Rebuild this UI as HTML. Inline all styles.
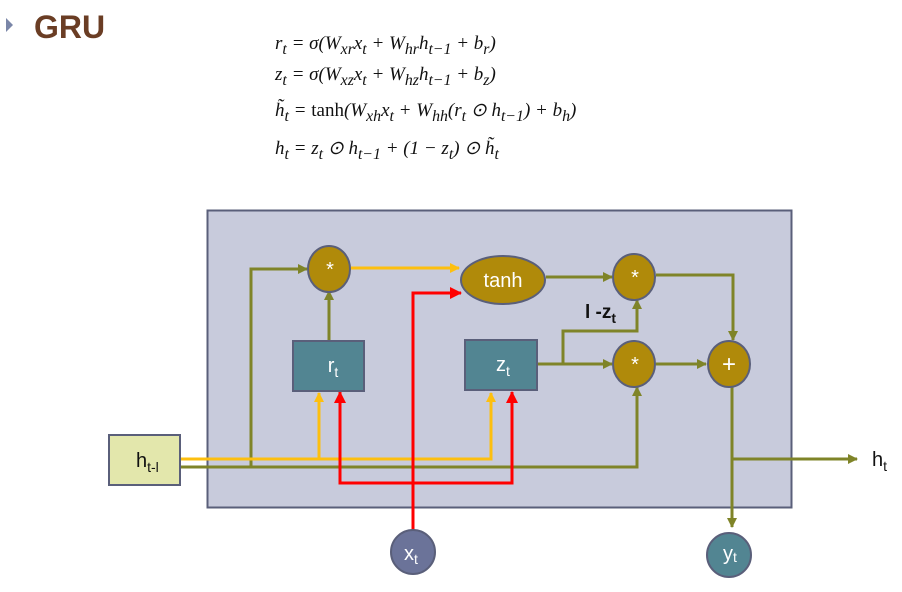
<!DOCTYPE html>
<html><head><meta charset="utf-8"><style>
body{margin:0;background:#fff;width:902px;height:592px;overflow:hidden;position:relative;font-family:"Liberation Sans",sans-serif}
.eq{position:absolute;left:275px;font-family:"Liberation Serif",serif;font-style:italic;font-size:19px;color:#111;white-space:nowrap}
.eq span{font-style:normal}
</style></head><body>
<svg width="902" height="592" style="position:absolute;left:0;top:0" font-family="Liberation Sans, sans-serif">
<defs>
<marker id="ao" markerWidth="10" markerHeight="10" refX="9" refY="5" orient="auto" markerUnits="userSpaceOnUse"><path d="M0,0 L10,5 L0,10z" fill="#7f8428"/></marker>
<marker id="ay" markerWidth="10" markerHeight="10" refX="9" refY="5" orient="auto" markerUnits="userSpaceOnUse"><path d="M0,0 L10,5 L0,10z" fill="#fdbf0f"/></marker>
<marker id="ar" markerWidth="12" markerHeight="12" refX="11" refY="6" orient="auto" markerUnits="userSpaceOnUse"><path d="M0,0 L12,6 L0,12z" fill="#f00"/></marker>
</defs>
<path d="M6,18 L13,25 L6,32z" fill="#7a86a8"/>
<text x="34" y="38" font-size="32" font-weight="bold" fill="#6a3d24">GRU</text>
<rect x="207.5" y="210.5" width="584" height="297" fill="#c8cbdc" stroke="#5a5f7a" stroke-width="2"/>
<g fill="none" stroke-width="3">
<!-- olive lines -->
<path d="M180,467 H637 V387" stroke="#7f8428" marker-end="url(#ao)"/>
<path d="M251,467 V269 H307" stroke="#7f8428" marker-end="url(#ao)"/>
<path d="M329,341 V291" stroke="#7f8428" marker-end="url(#ao)"/>
<path d="M546,277 H612" stroke="#7f8428" marker-end="url(#ao)"/>
<path d="M656,275 H733 V340" stroke="#7f8428" marker-end="url(#ao)"/>
<path d="M537,364 H612" stroke="#7f8428" marker-end="url(#ao)"/>
<path d="M563,364 V331 H637 V300" stroke="#7f8428" marker-end="url(#ao)"/>
<path d="M656,364 H706" stroke="#7f8428" marker-end="url(#ao)"/>
<path d="M732,386 V527" stroke="#7f8428" marker-end="url(#ao)"/>
<path d="M732,459 H857" stroke="#7f8428" marker-end="url(#ao)"/>
<!-- yellow -->
<path d="M180,459 H491 V393" stroke="#fdbf0f" marker-end="url(#ay)"/>
<path d="M319,459 V393" stroke="#fdbf0f" marker-end="url(#ay)"/>
<path d="M351,268 H459" stroke="#fdbf0f" marker-end="url(#ay)"/>
<!-- red -->
<path d="M340,393 V483 H512 V393" stroke="#f00"/>
<path d="M340,393 l0,-1" stroke="#f00" marker-end="url(#ar)"/>
<path d="M512,393 l0,-1" stroke="#f00" marker-end="url(#ar)"/>
<path d="M413,530 V293 H461" stroke="#f00" marker-end="url(#ar)"/>
</g>
<g stroke="#5a5f7a" stroke-width="2">
<ellipse cx="329" cy="269" rx="21" ry="23" fill="#b08a0a"/>
<ellipse cx="503" cy="280" rx="42" ry="24" fill="#b08a0a"/>
<ellipse cx="634" cy="277" rx="21" ry="23" fill="#b08a0a"/>
<ellipse cx="634" cy="364" rx="21" ry="23" fill="#b08a0a"/>
<ellipse cx="729" cy="364" rx="21" ry="23" fill="#b08a0a"/>
<rect x="293" y="341" width="71" height="50" fill="#528592"/>
<rect x="465" y="340" width="72" height="50" fill="#528592"/>
<rect x="109" y="435" width="71" height="50" fill="#e3e7ac"/>
<circle cx="413" cy="552" r="22" fill="#6b7399"/>
<circle cx="729" cy="555" r="22" fill="#528592"/>
</g>
<g fill="#fff" font-size="20" text-anchor="middle">
<text x="330" y="276">*</text><text x="635" y="284">*</text><text x="635" y="371">*</text>
<text x="729" y="372" font-size="24">+</text>
<text x="503" y="287">tanh</text>
<text x="333" y="372">r<tspan font-size="14" dy="5">t</tspan></text>
<text x="503" y="371">z<tspan font-size="14" dy="5">t</tspan></text>
<text x="411" y="560">x<tspan font-size="14" dy="4">t</tspan></text>
<text x="730" y="560">y<tspan font-size="14" dy="2">t</tspan></text>
</g>
<text x="136" y="467" font-size="20" fill="#111">h<tspan font-size="14" dy="5">t-l</tspan></text>
<text x="872" y="466" font-size="20" fill="#111">h<tspan font-size="14" dy="5">t</tspan></text>
<text x="585" y="318" font-size="19" fill="#111" font-weight="bold">l -z<tspan font-size="14" dy="5">t</tspan></text>
</svg>
<div class="eq" style="top:33px">r<sub>t</sub> = σ(W<sub>xr</sub>x<sub>t</sub> + W<sub>hr</sub>h<sub>t−1</sub> + b<sub>r</sub>)</div>
<div class="eq" style="top:64px">z<sub>t</sub> = σ(W<sub>xz</sub>x<sub>t</sub> + W<sub>hz</sub>h<sub>t−1</sub> + b<sub>z</sub>)</div>
<div class="eq" style="top:99px">h̃<sub>t</sub> = <span>tanh</span>(W<sub>xh</sub>x<sub>t</sub> + W<sub>hh</sub>(r<sub>t</sub> ⊙ h<sub>t−1</sub>) + b<sub>h</sub>)</div>
<div class="eq" style="top:137px">h<sub>t</sub> = z<sub>t</sub> ⊙ h<sub>t−1</sub> + (1 − z<sub>t</sub>) ⊙ h̃<sub>t</sub></div>
</body></html>
